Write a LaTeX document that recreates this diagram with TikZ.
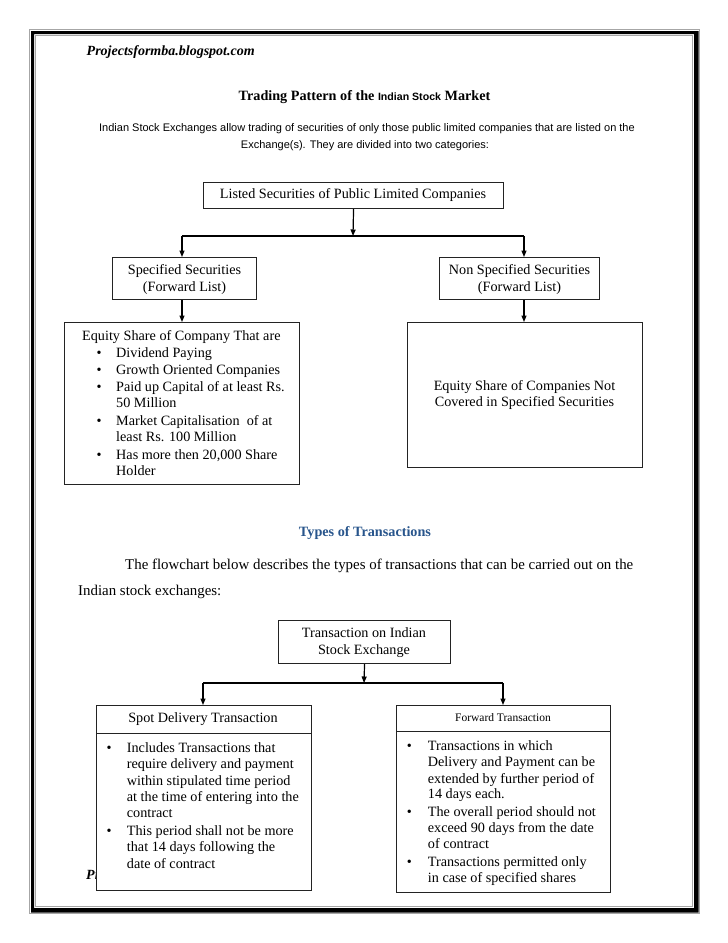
\documentclass[tikz,border=0pt]{standalone}
\usepackage{fontspec}
\setmainfont{Liberation Serif}
\newfontfamily\arialf{Liberation Sans}
\usetikzlibrary{arrows.meta}
\definecolor{headblue}{RGB}{40,85,140}
\definecolor{boxline}{RGB}{35,35,35}
\begin{document}
\begin{tikzpicture}[x=1pt,y=-1pt,
  box/.style={draw=boxline, line width=1.1pt, rectangle, inner sep=0pt, anchor=north west},
  txt/.style={inner sep=0pt, font=\fontsize{14.2}{16.7}\selectfont},
  small/.style={inner sep=0pt, font=\fontsize{11.5}{13}\selectfont},
  sans/.style={inner sep=0pt, font=\arialf\fontsize{11}{12}\selectfont},
  para/.style={inner sep=0pt, anchor=base west, font=\fontsize{14.9}{17}\selectfont},
  conn/.style={draw=black, line width=1.2pt},
  arr/.style={conn, -{Triangle[length=6.5pt,width=5pt]}},
  bl/.style={txt, anchor=base west},
  bul/.style={txt, anchor=base},
  ]
\useasboundingbox (0,0) rectangle (728,943);
\fill[white] (0,0) rectangle (728,943);
% page frame
\draw[gray!70, line width=0.8pt] (29.5,29.5) rectangle (699.5,913.5);
\fill[black, even odd rule] (31,31) rectangle (698.5,912.7) (34,34) rectangle (694,908);
\draw[gray!70, line width=0.8pt] (35,35) rectangle (692.5,906.8);

% header texts
\node[anchor=base west, inner sep=0pt, font=\fontsize{14}{16}\selectfont\bfseries\itshape] (site) at (86.5,55) {Projectsformba.blogspot.com};
\node[anchor=base, inner sep=0pt, font=\fontsize{14.2}{16}\selectfont\bfseries] (title) at (364.5,100) {Trading Pattern of the {\arialf\fontsize{10.6}{12}\selectfont Indian Stock} Market};
\node[sans, anchor=base] (intro1) at (367,131.7) {Indian Stock Exchanges allow trading of securities of only those public limited companies that are listed on the};
\node[sans, anchor=base] (intro2) at (365,148) {Exchange(s). They are divided into two categories:};

% upper chart boxes
\node[box, minimum width=300pt, minimum height=26pt] (b1) at (203,182) {};
\node[txt, anchor=base] (t1) at (353,198.5) {Listed Securities of Public Limited Companies};

\node[box, minimum width=144pt, minimum height=42pt] (b2) at (112,257) {};
\node[txt, anchor=base] (t2a) at (184.5,274) {Specified Securities};
\node[txt, anchor=base] (t2b) at (184.5,291.5) {(Forward List)};

\node[box, minimum width=160pt, minimum height=42pt] (b3) at (439,257) {};
\node[txt, anchor=base] (t3a) at (519.5,274) {Non Specified Securities};
\node[txt, anchor=base] (t3b) at (519.5,291.5) {(Forward List)};

\node[box, minimum width=235pt, minimum height=162pt] (b4) at (64,322) {};
\node[bl] (t4h) at (82,340) {Equity Share of Company That are};
\node[bul] (u41) at (99,357) {\textbullet};
\node[bl] (t41) at (116,357) {Dividend Paying};
\node[bul] (u42) at (99,374) {\textbullet};
\node[bl] (t42) at (116,374) {Growth Oriented Companies};
\node[bul] (u43) at (99,391) {\textbullet};
\node[bl] (t43a) at (116,391) {Paid up Capital of at least Rs.};
\node[bl] (t43b) at (116,407) {50 Million};
\node[bul] (u44) at (99,425.5) {\textbullet};
\node[bl] (t44a) at (116,425.5) {Market Capitalisation\ \ of at};
\node[bl] (t44b) at (116,441.5) {least Rs. 100 Million};
\node[bul] (u45) at (99,459.5) {\textbullet};
\node[bl] (t45a) at (116,459.5) {Has more then 20,000 Share};
\node[bl] (t45b) at (116,475.7) {Holder};

\node[box, minimum width=235pt, minimum height=145pt] (b5) at (407,322) {};
\node[txt, anchor=base] (t5a) at (524.5,390) {Equity Share of Companies Not};
\node[txt, anchor=base] (t5b) at (524.5,406) {Covered in Specified Securities};

% upper connectors
\coordinate (h1L) at (182,236);
\coordinate (h1R) at (524,236);
\coordinate (h1M) at (353,236);
\draw[conn] (h1L) -- (h1R);
\draw[arr] (b1.south) -- (h1M);
\draw[arr] (h1L) -- (h1L |- b2.north);
\draw[arr] (h1R) -- (h1R |- b3.north);
\draw[arr] (h1L |- b2.south) -- (h1L |- b4.north);
\draw[arr] (h1R |- b3.south) -- (h1R |- b5.north);

% second section
\node[anchor=base, inner sep=0pt, font=\fontsize{14.2}{16}\selectfont\bfseries, text=headblue] (types) at (365,536) {Types of Transactions};
\node[para] (para1) at (125,569) {The flowchart below describes the types of transactions that can be carried out on the};
\node[para] (para2) at (78,595) {Indian stock exchanges:};

\node[box, minimum width=172pt, minimum height=43pt] (tr) at (278,620) {};
\node[txt, anchor=base] (tra) at (364,637) {Transaction on Indian};
\node[txt, anchor=base] (trb) at (364,654) {Stock Exchange};

% footer fragment hidden behind the box
\begin{scope}
\clip (80,860) rectangle (95.5,890);
\node[anchor=base west, inner sep=0pt, font=\fontsize{14}{16}\selectfont\bfseries\itshape] (pr) at (86,879) {Pr};
\end{scope}

% spot delivery
\node[box, minimum width=215pt, minimum height=28pt] (sph) at (96,705) {};
\node[txt, anchor=base] (spt) at (203,722.5) {Spot Delivery Transaction};
\node[box, minimum width=215pt, minimum height=157pt] (spb) at (96,733) {};
\node[bul] (us1) at (109,752.5) {\textbullet};
\node[bl] (s1) at (126.7,752.5) {Includes Transactions that};
\node[bl] (s2) at (126.7,768.5) {require delivery and payment};
\node[bl] (s3) at (126.7,785) {within stipulated time period};
\node[bl] (s4) at (126.7,801) {at the time of entering into the};
\node[bl] (s5) at (126.7,817.5) {contract};
\node[bul] (us2) at (109,835) {\textbullet};
\node[bl] (s6) at (126.7,835) {This period shall not be more};
\node[bl] (s7) at (126.7,851.5) {that 14 days following the};
\node[bl] (s8) at (126.7,868) {date of contract};

% forward
\node[box, minimum width=214pt, minimum height=26pt] (fwh) at (396,705) {};
\node[small, anchor=base] (fwt) at (503,721) {Forward Transaction};
\node[box, minimum width=214pt, minimum height=161pt] (fwb) at (396,731) {};
\node[bul] (uf1) at (409.3,750) {\textbullet};
\node[bl] (f1) at (427.7,750) {Transactions in which};
\node[bl] (f2) at (427.7,766.5) {Delivery and Payment can be};
\node[bl] (f3) at (427.7,783) {extended by further period of};
\node[bl] (f4) at (427.7,798.5) {14 days each.};
\node[bul] (uf2) at (409.3,816) {\textbullet};
\node[bl] (f5) at (427.7,816) {The overall period should not};
\node[bl] (f6) at (427.7,832.5) {exceed 90 days from the date};
\node[bl] (f7) at (427.7,848.5) {of contract};
\node[bul] (uf3) at (409.3,866.5) {\textbullet};
\node[bl] (f8) at (427.7,866.5) {Transactions permitted only};
\node[bl] (f9) at (427.7,882) {in case of specified shares};

% lower connectors
\coordinate (h2L) at (203,683);
\coordinate (h2R) at (503,683);
\coordinate (h2M) at (364,683);
\draw[conn] (h2L) -- (h2R);
\draw[arr] (tr.south) -- (h2M);
\draw[arr] (h2L) -- (h2L |- sph.north);
\draw[arr] (h2R) -- (h2R |- fwh.north);
\end{tikzpicture}
\end{document}
